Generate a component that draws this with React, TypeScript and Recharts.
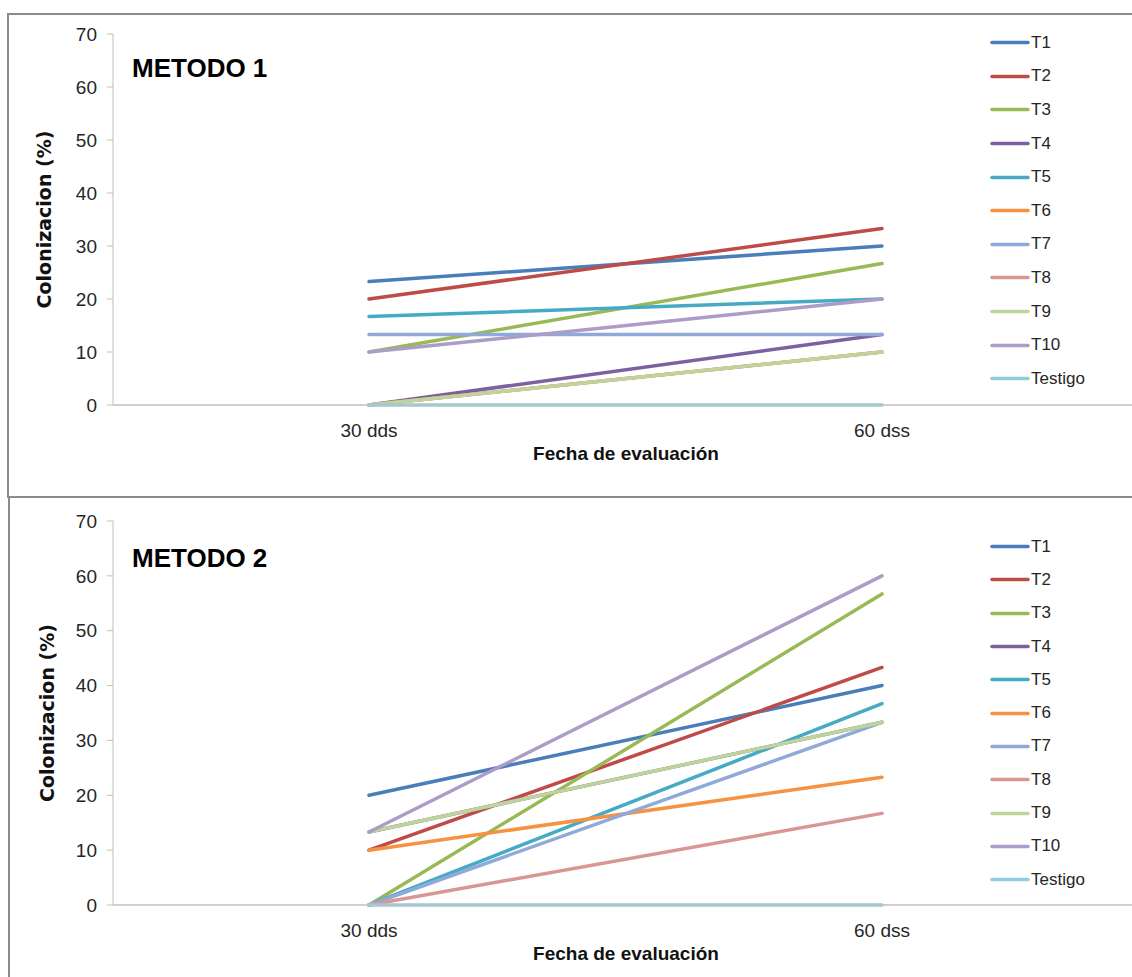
import { LineChart, Line, XAxis, YAxis, Legend } from 'recharts';

// Fechas de evaluación y tratamientos
const fechas = ['30 dds', '60 dss'];
const tratamientos = ['T1', 'T2', 'T3', 'T4', 'T5', 'T6', 'T7', 'T8', 'T9', 'T10', 'Testigo'];
const colores = [
  '#4A7EBB', '#BE4B48', '#98B954', '#7D60A0', '#46AAC5', '#F69240',
  '#8FA9D8', '#D99694', '#BFD49A', '#AC9CC8', '#8ECDDE',
];

// Colonización (%) por tratamiento, mismo orden que `tratamientos`
const metodo1_30dds = [23.3, 20, 10, 0, 16.7, 0, 13.3, 0, 0, 10, 0];
const metodo1_60dss = [30, 33.3, 26.7, 13.3, 20, 10, 13.3, 10, 10, 20, 0];
const metodo2_30dds = [20, 10, 0, 13.3, 0, 10, 0, 0, 13.3, 13.3, 0];
const metodo2_60dss = [40, 43.3, 56.7, 33.3, 36.7, 23.3, 33.3, 16.7, 33.3, 60, 0];

const yTicks = [0, 10, 20, 30, 40, 50, 60, 70];

const FONT = '"Liberation Sans", Arial, sans-serif';

function buildRows(v30: number[], v60: number[]) {
  return fechas.map((fecha, i) => {
    const row: Record<string, string | number> = { fecha };
    tratamientos.forEach((t, j) => {
      row[t] = i === 0 ? v30[j] : v60[j];
    });
    return row;
  });
}

function LegendList({ payload, rowHeight }: any) {
  // keep the treatment order instead of the alphabetical one
  const items = [...(payload || [])].sort(
    (a: any, b: any) => tratamientos.indexOf(a.value) - tratamientos.indexOf(b.value)
  );
  return (
    <div>
      {items.map((p: any) => (
        <div
          key={p.value}
          style={{ display: 'flex', alignItems: 'center', height: rowHeight }}
        >
          <svg width={40} height={5} style={{ display: 'block' }}>
            <line x1={2} y1={2.5} x2={38} y2={2.5} stroke={p.color} strokeWidth={3.5} strokeLinecap="round" />
          </svg>
          <span style={{ marginLeft: 1, fontSize: 17, color: '#262626', fontFamily: FONT }}>
            {p.value}
          </span>
        </div>
      ))}
    </div>
  );
}

type PanelProps = {
  title: string;
  top: number;
  v30: number[];
  v60: number[];
  marginTop: number;
  plotHeight: number;
  legendTop: number;
  rowHeight: number;
  yLabelOffset: number;
  titleTop: number;
};

function Panel({ title, top, v30, v60, marginTop, plotHeight, legendTop, rowHeight, yLabelOffset, titleTop }: PanelProps) {
  const data = buildRows(v30, v60);
  const xAxisHeight = 60;
  const height = marginTop + plotHeight + xAxisHeight + 20;
  return (
    <div style={{ position: 'absolute', left: 0, top, width: 1139, height }}>
      <LineChart
        width={1139}
        height={height}
        data={data}
        margin={{ top: marginTop, right: 0, bottom: 20, left: 8 }}
      >
        <XAxis
          dataKey="fecha"
          height={xAxisHeight}
          padding={{ left: 256, right: 257 }}
          tickLine={false}
          tickMargin={13}
          axisLine={{ stroke: '#BFBFBF', strokeWidth: 1.5 }}
          tick={{ fill: '#262626', fontSize: 19, fontFamily: FONT }}
          label={{
            value: 'Fecha de evaluación',
            position: 'insideBottom',
            offset: 5,
            style: { fill: '#111', fontSize: 19, fontWeight: 'bold', fontFamily: FONT },
          }}
        />
        <YAxis
          width={105}
          domain={[0, 70]}
          ticks={yTicks}
          interval={0}
          tickSize={6}
          tickMargin={10}
          tickLine={{ stroke: '#BFBFBF' }}
          axisLine={{ stroke: '#BFBFBF' }}
          tick={{ fill: '#262626', fontSize: 19, fontFamily: FONT }}
          label={{
            value: 'Colonizacion  (%)',
            angle: -90,
            position: 'insideLeft',
            offset: yLabelOffset,
            textAnchor: 'middle',
            style: { fill: '#111', fontSize: 19, fontWeight: 'bold', fontFamily: '"DejaVu Sans", Verdana, sans-serif' },
          }}
        />
        <Legend
          layout="vertical"
          align="center"
          verticalAlign="middle"
          wrapperStyle={{ left: 990, top: legendTop, width: 140 }}
          content={(props: any) => <LegendList {...props} rowHeight={rowHeight} />}
        />
        {tratamientos.map((t, i) => (
          <Line
            key={t}
            type="linear"
            dataKey={t}
            name={t}
            stroke={colores[i]}
            strokeWidth={3.5}
            strokeLinecap="round"
            dot={false}
            activeDot={false}
            isAnimationActive={false}
          />
        ))}
      </LineChart>
      <div
        style={{
          position: 'absolute',
          left: 132,
          top: titleTop - 16,
          lineHeight: '32px',
          fontSize: 26,
          fontWeight: 'bold',
          fontFamily: FONT,
          color: '#000',
        }}
      >
        {title}
      </div>
    </div>
  );
}

export default function App() {
  return (
    <div
      style={{
        position: 'absolute',
        left: 0,
        top: 0,
        width: 1132,
        height: 977,
        overflow: 'hidden',
        background: '#fff',
      }}
    >
      <div
        style={{
          position: 'absolute',
          left: 7,
          top: 13,
          width: 1200,
          height: 485,
          boxSizing: 'border-box',
          border: '2px solid #8C8C8C',
        }}
      />
      <div
        style={{
          position: 'absolute',
          left: 8,
          top: 496,
          width: 1200,
          height: 600,
          boxSizing: 'border-box',
          border: '2px solid #8C8C8C',
        }}
      />
      <Panel
        title="METODO 1"
        top={0}
        v30={metodo1_30dds}
        v60={metodo1_60dss}
        marginTop={34}
        plotHeight={371}
        legendTop={26}
        rowHeight={33.6}
        yLabelOffset={36}
        titleTop={68}
      />
      <Panel
        title="METODO 2"
        top={497}
        v30={metodo2_30dds}
        v60={metodo2_60dss}
        marginTop={24}
        plotHeight={384}
        legendTop={33}
        rowHeight={33.3}
        yLabelOffset={39}
        titleTop={61}
      />
    </div>
  );
}
